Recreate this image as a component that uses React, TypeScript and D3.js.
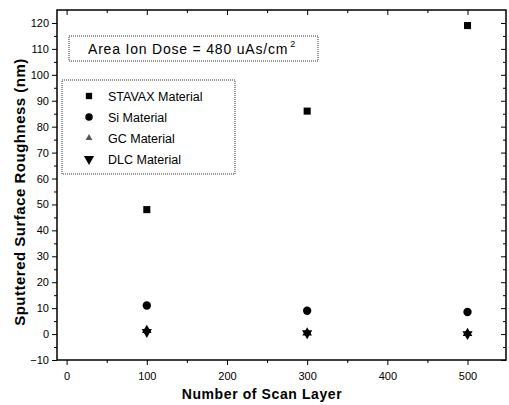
import React, { useEffect, useRef } from "react";
import * as d3 from "d3";

const layers = [100, 300, 500];
const stavax = [48, 86, 119];
const si = [11, 9, 8.5];
const gc = [1.5, 0.5, 0.3];
const dlc = [0.8, 0.3, 0];
const seriesNames = ["STAVAX Material", "Si Material", "GC Material", "DLC Material"];
const xTicks = [0, 100, 200, 300, 400, 500];
const yTicks = [-10, 0, 10, 20, 30, 40, 50, 60, 70, 80, 90, 100, 110, 120];

const W = 509;
const H = 405;
const m = { left: 57, right: 3, top: 10, bottom: 45 };

function symbolFor(i: number) {
  if (i === 0) return d3.symbolSquare;
  if (i === 1) return d3.symbolCircle;
  return d3.symbolTriangle;
}

export default function App() {
  const ref = useRef<SVGSVGElement>(null);

  useEffect(() => {
    const svg = d3.select(ref.current);
    svg.selectAll("*").remove();

    const x = d3.scaleLinear().domain([-12, 548]).range([m.left, W - m.right]);
    const y = d3.scaleLinear().domain([-10, 125]).range([H - m.bottom, m.top]);

    const g = svg.append("g");
    const font = "Arial, 'Liberation Sans', sans-serif";

    // frame
    g.append("rect")
      .attr("x", x.range()[0]).attr("y", y.range()[1])
      .attr("width", x.range()[1] - x.range()[0])
      .attr("height", y.range()[0] - y.range()[1])
      .attr("fill", "none").attr("stroke", "#000").attr("stroke-width", 1.5);

    const xMinor = d3.range(50, 550, 100);
    const yMinor = d3.range(-5, 125, 10);

    // bottom axis
    const bottom = g.append("g").attr("transform", `translate(0,${y(-10)})`)
      .call(d3.axisBottom(x).tickValues(xTicks).tickSize(5).tickPadding(7).tickFormat(d3.format("d")));
    bottom.select(".domain").remove();
    bottom.selectAll("text").attr("font-size", 11).attr("font-family", font);
    g.append("g").attr("transform", `translate(0,${y(-10)})`)
      .call(d3.axisBottom(x).tickValues(xMinor).tickSize(3).tickFormat(() => ""))
      .select(".domain").remove();

    // top axis (inward)
    g.append("g").attr("transform", `translate(0,${y(125)})`)
      .call(d3.axisBottom(x).tickValues(xTicks).tickSize(5).tickFormat(() => ""))
      .select(".domain").remove();
    g.append("g").attr("transform", `translate(0,${y(125)})`)
      .call(d3.axisBottom(x).tickValues(xMinor).tickSize(3).tickFormat(() => ""))
      .select(".domain").remove();

    // left axis
    const left = g.append("g").attr("transform", `translate(${x(-12)},0)`)
      .call(d3.axisLeft(y).tickValues(yTicks).tickSize(5).tickPadding(3).tickFormat(d3.format("d")));
    left.select(".domain").remove();
    left.selectAll("text").attr("font-size", 11).attr("font-family", font);
    g.append("g").attr("transform", `translate(${x(-12)},0)`)
      .call(d3.axisLeft(y).tickValues(yMinor).tickSize(3).tickFormat(() => ""))
      .select(".domain").remove();

    // right axis (inward)
    g.append("g").attr("transform", `translate(${x(548)},0)`)
      .call(d3.axisLeft(y).tickValues(yTicks).tickSize(5).tickFormat(() => ""))
      .select(".domain").remove();
    g.append("g").attr("transform", `translate(${x(548)},0)`)
      .call(d3.axisLeft(y).tickValues(yMinor).tickSize(3).tickFormat(() => ""))
      .select(".domain").remove();

    // axis titles
    g.append("text")
      .attr("x", 262).attr("y", 399)
      .attr("text-anchor", "middle").attr("font-weight", "bold")
      .attr("font-size", 14).attr("letter-spacing", 0.6).attr("font-family", font)
      .text("Number of Scan Layer");
    g.append("text")
      .attr("transform", `translate(25,192) rotate(-90)`)
      .attr("text-anchor", "middle").attr("font-weight", "bold")
      .attr("font-size", 15).attr("letter-spacing", 0.5).attr("font-family", font)
      .text("Sputtered Surface Roughness (nm)");

    // points
    const allSeries = [stavax, si, gc, dlc];
    allSeries.forEach((vals, i) => {
      const sizes = [50, 55, 40, 45];
      g.selectAll(null).data(vals).enter().append("path")
        .attr("d", d3.symbol().type(symbolFor(i)).size(sizes[i]))
        .attr("transform", (d, j) => `translate(${x(layers[j])},${y(d)})${i === 3 ? " rotate(180)" : ""}`)
        .attr("fill", "#000");
    });

    // annotation box
    g.append("rect")
      .attr("x", 69).attr("y", 36).attr("width", 249).attr("height", 25)
      .attr("fill", "none").attr("stroke", "#333").attr("stroke-dasharray", "1,1");
    const ann = g.append("text").attr("x", 88).attr("y", 54)
      .attr("font-size", 14).attr("letter-spacing", 0.8).attr("font-family", font);
    ann.append("tspan").text("Area Ion Dose = 480 uAs/cm");
    ann.append("tspan").attr("dy", -7).attr("dx", 2).attr("font-size", 9).text("2");

    // legend
    g.append("rect")
      .attr("x", 62).attr("y", 80).attr("width", 173).attr("height", 94)
      .attr("fill", "none").attr("stroke", "#333").attr("stroke-dasharray", "1,1");
    const legendY = d3.scalePoint().domain(seriesNames).range([96, 159]);
    seriesNames.forEach((name, i) => {
      const sizes = [40, 45, 20, 45];
      g.append("path")
        .attr("d", d3.symbol().type(symbolFor(i)).size(sizes[i]))
        .attr("transform", `translate(89,${legendY(name)})${i === 3 ? " rotate(180)" : ""}`)
        .attr("fill", i === 2 ? "#555" : "#000");
      g.append("text")
        .attr("x", 108).attr("y", (legendY(name) ?? 0) + 4.5)
        .attr("font-size", 12.5).attr("font-family", font)
        .text(name);
    });
  }, []);

  return (
    <svg ref={ref} width={W} height={H}
      style={{ position: "absolute", left: 0, top: 0, background: "#fff" }} />
  );
}
